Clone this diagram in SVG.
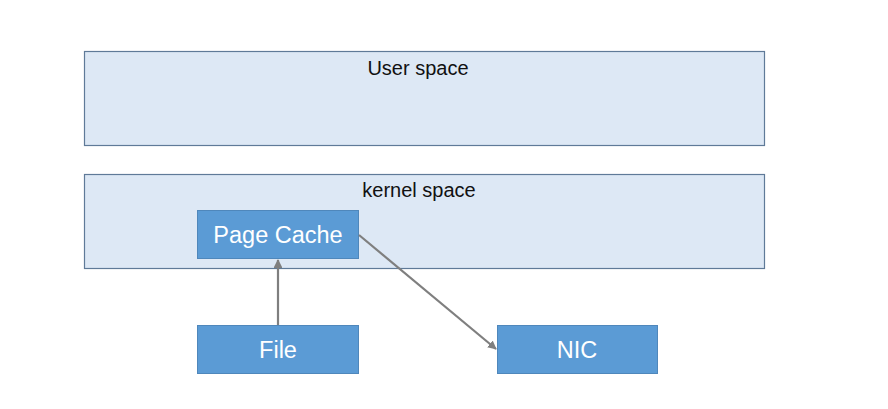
<svg xmlns="http://www.w3.org/2000/svg" width="888" height="409" viewBox="0 0 888 409">
<style>
.region{fill:#dde8f5;stroke:#5f7a98;stroke-width:1.2}
.box{fill:#5b9bd5;stroke:#4f87bb;stroke-width:1}
.rt{font-family:"Liberation Sans",Arial,sans-serif;font-size:20px;fill:#111;text-anchor:middle}
.bt{font-family:"Liberation Sans",Arial,sans-serif;font-size:23.5px;fill:#fff;text-anchor:middle}
.conn{stroke:#7f7f7f;stroke-width:2.2;fill:none}
</style>
<defs>
<marker id="arr" viewBox="0 0 10 10" refX="9" refY="5" markerWidth="4" markerHeight="4" orient="auto" markerUnits="strokeWidth">
<path d="M0,0 L10,5 L0,10 z" fill="#7f7f7f"/>
</marker>
</defs>
<rect width="888" height="409" fill="#fff"/>
<g id="user-space">
<rect class="region" x="84.5" y="51.5" width="680" height="94"/>
<text class="rt" x="418" y="75">User space</text>
</g>
<g id="kernel-space">
<rect class="region" x="84.5" y="174.5" width="680" height="94"/>
<text class="rt" x="419" y="197">kernel space</text>
</g>
<g id="page-cache">
<rect class="box" x="197.5" y="210.5" width="161" height="48"/>
<text class="bt" x="278" y="243">Page Cache</text>
</g>
<g id="file">
<rect class="box" x="197.5" y="325.5" width="161" height="48"/>
<text class="bt" x="278" y="358">File</text>
</g>
<g id="nic">
<rect class="box" x="497.5" y="325.5" width="160" height="48"/>
<text class="bt" x="577" y="358">NIC</text>
</g>
<g id="connectors">
<line class="conn" x1="278" y1="325" x2="278" y2="260" marker-end="url(#arr)"/>
<line class="conn" x1="359" y1="235" x2="496" y2="349" marker-end="url(#arr)"/>
</g>
</svg>
